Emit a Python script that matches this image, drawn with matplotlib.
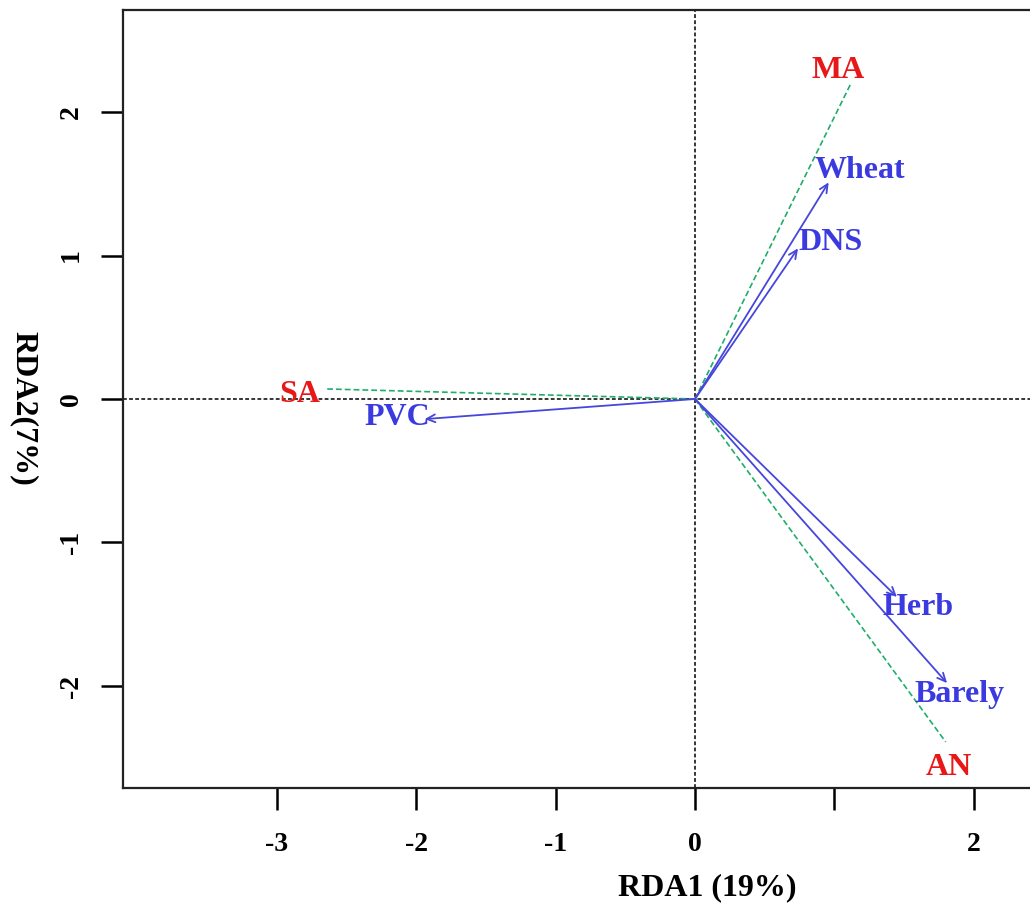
import matplotlib
matplotlib.use("Agg")
import matplotlib.pyplot as plt

# ---- data ----
species = ["Wheat", "DNS", "Herb", "Barely", "PVC"]
species_x = [0.96, 0.74, 1.45, 1.81, -1.94]
species_y = [1.51, 1.05, -1.38, -1.98, -0.14]
species_label_x = [1.18, 0.97, 1.60, 1.90, -2.14]
species_label_y = [1.59, 1.09, -1.45, -2.06, -0.13]

env = ["MA", "SA", "AN"]
env_x = [1.12, -2.64, 1.80]
env_y = [2.20, 0.07, -2.39]
env_label_x = [1.03, -2.84, 1.82]
env_label_y = [2.29, 0.03, -2.57]

xticks = [-3, -2, -1, 0, 1, 2]
xtick_labels = ["-3", "-2", "-1", "0", "", "2"]
yticks = [-2, -1, 0, 1, 2]
ytick_labels = ["-2", "-1", "0", "1", "2"]

xlabel = "RDA1 (19%)"
ylabel = "RDA2(7%)"

# ---- style ----
plt.rcParams["font.family"] = ["Liberation Serif", "DejaVu Serif"]
plt.rcParams["font.weight"] = "bold"

W, H = 1030, 913
fig = plt.figure(figsize=(W / 100, H / 100), dpi=100)
left_px, right_px, top_px, bottom_px = 123, 1034, 10, 788
ax = fig.add_axes([left_px / W, (H - bottom_px) / H,
                   (right_px - left_px) / W, (bottom_px - top_px) / H])

ax.set_xlim(-4.106, 2.434)
ax.set_ylim(-2.711, 2.711)

blue_line = "#4646dc"
blue_text = "#3a3ae0"
green = "#1fae6a"
red = "#e81818"

ax.axhline(0, color="black", lw=1.1, ls=(0, (2.5, 1.5)), zorder=1)
ax.axvline(0, color="black", lw=1.1, ls=(0, (2.5, 1.5)), zorder=1)

# environmental variables (green dashed lines + red labels)
for name, x, y, lx, ly in zip(env, env_x, env_y, env_label_x, env_label_y):
    ax.plot([0, x], [0, y], color=green, lw=1.2, ls=(0, (3.5, 1.8)), zorder=2)
    ax.text(lx, ly, name, color=red, fontsize=23, fontweight="bold",
            ha="center", va="center", zorder=4)

# species arrows (blue)
for name, x, y, lx, ly in zip(species, species_x, species_y,
                              species_label_x, species_label_y):
    ax.annotate("", xy=(x, y), xytext=(0, 0),
                arrowprops=dict(arrowstyle="->,head_length=0.6,head_width=0.28",
                                color=blue_line, lw=1.3,
                                shrinkA=0, shrinkB=0),
                zorder=3)
    ax.text(lx, ly, name, color=blue_text, fontsize=23, fontweight="bold",
            ha="center", va="center", zorder=4)

# axes, ticks
for side in ["left", "bottom", "top", "right"]:
    ax.spines[side].set_linewidth(1.6)
    ax.spines[side].set_color("#222222")

ax.set_xticks(xticks)
ax.set_xticklabels(xtick_labels)
ax.set_yticks(yticks)
ax.set_yticklabels(ytick_labels)
ax.tick_params(axis="both", length=16, width=1.8, labelsize=20)
ax.tick_params(axis="x", pad=16)
ax.tick_params(axis="y", pad=12)
for lab in ax.get_yticklabels():
    lab.set_rotation(90)
    lab.set_va("center")
    lab.set_fontweight("bold")
for lab in ax.get_xticklabels():
    lab.set_fontweight("bold")

ax.set_xlabel(xlabel, fontsize=23, fontweight="bold")
ax.xaxis.set_label_coords((707 - left_px) / (right_px - left_px),
                          (bottom_px - 888) / (bottom_px - top_px))
ax.xaxis.label.set_va("center")
ax.set_ylabel(ylabel, fontsize=23, fontweight="bold", rotation=270)
ax.yaxis.set_label_coords((24 - left_px) / (right_px - left_px),
                          (bottom_px - 408) / (bottom_px - top_px))
ax.yaxis.label.set_va("center")
ax.yaxis.label.set_ha("center")

fig.savefig("out.png", dpi=100)
